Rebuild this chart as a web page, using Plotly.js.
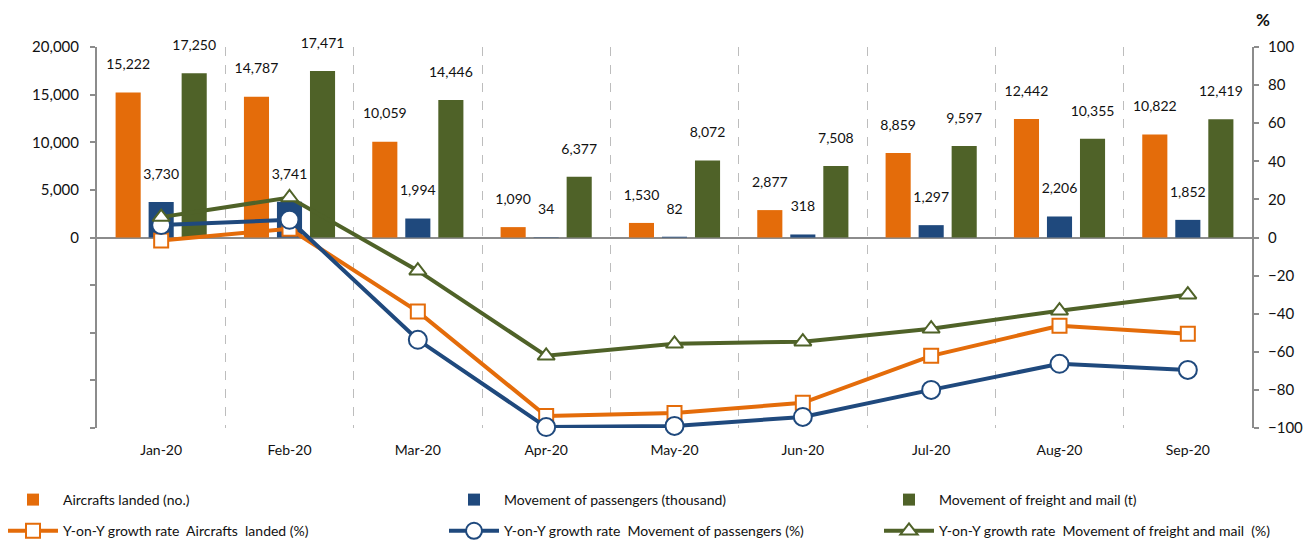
<!DOCTYPE html>
<html>
<head>
<meta charset="utf-8">
<script src="https://cdn.plot.ly/plotly-3.0.1.min.js"></script>
<style>html,body{margin:0;padding:0;background:#fff;}#chart{width:1309px;height:540px;}</style>
</head>
<body>
<div id="chart"></div>
<script>
const months = ["Jan-20","Feb-20","Mar-20","Apr-20","May-20","Jun-20","Jul-20","Aug-20","Sep-20"];
const aircrafts = [15222,14787,10059,1090,1530,2877,8859,12442,10822];
const passengers = [3730,3741,1994,34,82,318,1297,2206,1852];
const freight = [17250,17471,14446,6377,8072,7508,9597,10355,12419];
const yoyAircrafts = [-1.6,4.6,-38.9,-93.7,-92.1,-86.8,-62.1,-46.3,-50.5];
const yoyPassengers = [6.5,9.3,-53.7,-99.5,-98.9,-94.2,-80.0,-66.3,-69.5];
const yoyFreight = [10.7,21.0,-17.4,-62.1,-55.8,-54.7,-47.9,-38.4,-30.0];
const leftTickVals = [-20000,-15000,-10000,-5000,0,5000,10000,15000,20000];
const leftTickText = ["","","","","0","5,000","10,000","15,000","20,000"];

const ORANGE = "#E46C0A", BLUE = "#1F497D", GREEN = "#4F6228";
const FONT = "Lato, 'Open Sans', sans-serif";
const fmt = v => v.toLocaleString("en-US") + "<br><span style='font-size:8px'> </span>";

function barTrace(name, vals, color, legendName) {
  return {
    type: "bar", name: name, x: months, y: vals, legend: legendName, legendgroup: name,
    marker: {color: color},
    text: vals.map(fmt), textposition: "outside", cliponaxis: false, constraintext: "none",
    textfont: {family: FONT, size: 14, color: "#111"},
    hoverinfo: "y"
  };
}
function lineTrace(name, vals, color, symbol, size, legendName) {
  return {
    type: "scatter", mode: "lines+markers", name: name, x: months, y: vals, yaxis: "y2",
    legend: legendName, legendgroup: name,
    line: {color: color, width: 4},
    marker: {symbol: symbol, size: size, color: "#fff", line: {color: color, width: 2}},
    cliponaxis: false
  };
}

const data = [
  barTrace("Aircrafts landed (no.)", aircrafts, ORANGE, "legend"),
  barTrace("Movement of passengers (thousand)", passengers, BLUE, "legend2"),
  barTrace("Movement of freight and mail (t)", freight, GREEN, "legend3"),
  lineTrace("Y-on-Y growth rate  Aircrafts  landed (%)", yoyAircrafts, ORANGE, "square", 14, "legend"),
  lineTrace("Y-on-Y growth rate  Movement of passengers (%)", yoyPassengers, BLUE, "circle", 18, "legend2"),
  lineTrace("Y-on-Y growth rate  Movement of freight and mail  (%)", yoyFreight, GREEN, "triangle-up", 15, "legend3")
];

function leg(xpx) {
  return {orientation: "v", xref: "container", yref: "container", x: xpx / 1309, xanchor: "left",
          y: 1 - 484 / 540, yanchor: "top", traceorder: "grouped", tracegroupgap: 10,
          itemwidth: 50, bgcolor: "rgba(0,0,0,0)",
          font: {family: FONT, size: 14, color: "#111"}};
}

const layout = {
  width: 1309, height: 540,
  margin: {l: 97, r: 57, t: 47, b: 112, autoexpand: false},
  paper_bgcolor: "#fff", plot_bgcolor: "#fff",
  font: {family: FONT, size: 14, color: "#111"},
  barmode: "group", bargap: 0.228, bargroupgap: 0.24,
  showlegend: true,
  legend: leg(3), legend2: leg(444), legend3: leg(879),
  xaxis: {type: "category", tickson: "boundaries", showgrid: true, gridcolor: "#bdbdbd",
          griddash: "dash", gridwidth: 1, showline: false, ticks: "", zeroline: false,
          ticklabelstandoff: 12,
          tickfont: {family: FONT, size: 14, color: "#111"}, range: [-0.5, 8.5]},
  yaxis: {range: [-20000, 20000], tickvals: leftTickVals, ticktext: leftTickText,
          showgrid: false, showline: true, linecolor: "#8c8c8c", linewidth: 2,
          ticks: "outside", ticklen: 5, tickcolor: "#8c8c8c", tickwidth: 2,
          zeroline: true, zerolinecolor: "#8c8c8c", zerolinewidth: 2, ticklabelstandoff: 8,
          tickfont: {family: FONT, size: 15, color: "#111"}},
  yaxis2: {overlaying: "y", side: "right", range: [-100, 100], dtick: 20,
           showgrid: false, showline: true, linecolor: "#8c8c8c", linewidth: 2,
           ticks: "outside", ticklen: 5, tickcolor: "#8c8c8c", tickwidth: 2, zeroline: false,
           ticklabelstandoff: 6,
           tickfont: {family: FONT, size: 15, color: "#111"}},
  annotations: [{text: "<b>%</b>", xref: "paper", yref: "paper", x: 1.0095, y: 1.071,
                 xanchor: "center", yanchor: "middle",
                 showarrow: false, font: {family: FONT, size: 17, color: "#111"}}]
};

Plotly.newPlot("chart", data, layout, {displayModeBar: false, staticPlot: true});
</script>
</body>
</html>
